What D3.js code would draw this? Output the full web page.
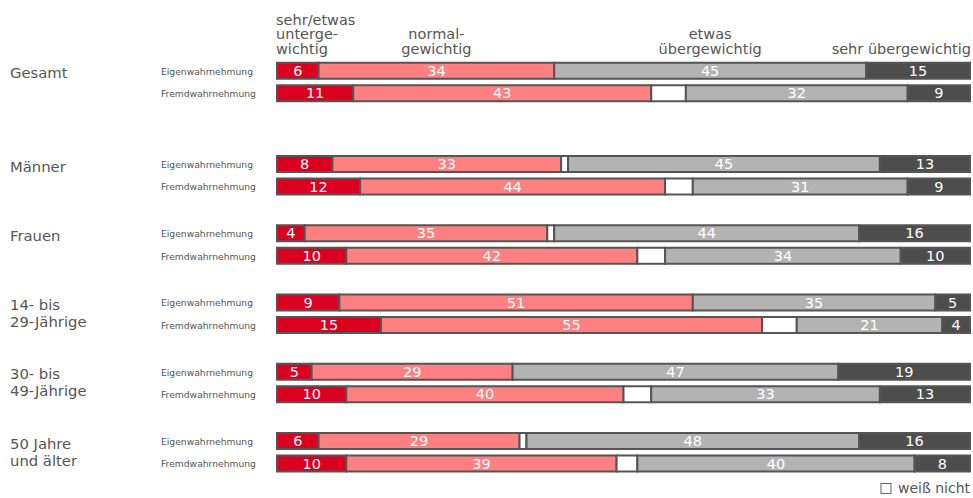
<!DOCTYPE html>
<html lang="de">
<head>
<meta charset="utf-8">
<script src="https://cdn.jsdelivr.net/npm/d3@7"></script>
<style>
  html, body { margin: 0; padding: 0; background: #fff; }
  svg { display: block; font-family: Verdana, "DejaVu Sans", sans-serif; }
</style>
</head>
<body>
<svg id="chart" width="973" height="498"></svg>
<script>
// Gewichtsklassen (stacked segments, left to right)
const categories = ["untergewichtig", "normalgewichtig", "weißNicht", "etwasUeber", "sehrUeber"];
const headerLabels = [
  ["sehr/etwas", "unterge-", "wichtig"],
  ["normal-", "gewichtig"],
  null,
  ["etwas", "übergewichtig"],
  ["sehr übergewichtig"]
];
const groups = [
  ["Gesamt"],
  ["Männer"],
  ["Frauen"],
  ["14- bis", "29-Jährige"],
  ["30- bis", "49-Jährige"],
  ["50 Jahre", "und älter"]
];
const perspectives = ["Eigenwahrnehmung", "Fremdwahrnehmung"];

// Prozentwerte je Gruppe: [untergewichtig, normalgewichtig, etwas übergewichtig, sehr übergewichtig]
const eigen = [
  [6, 34, 45, 15],
  [8, 33, 45, 13],
  [4, 35, 44, 16],
  [9, 51, 35, 5],
  [5, 29, 47, 19],
  [6, 29, 48, 16]
];
const fremd = [
  [11, 43, 32, 9],
  [12, 44, 31, 9],
  [10, 42, 34, 10],
  [15, 55, 21, 4],
  [10, 40, 33, 13],
  [10, 39, 40, 8]
];
const legendLabel = "weiß nicht";

const colors = {
  untergewichtig: "#db0020",
  normalgewichtig: "#ff8080",
  weißNicht: "#ffffff",
  etwasUeber: "#b3b3b3",
  sehrUeber: "#4d4d4d"
};
const textColor = "#555555";

// rows: remaining share ("weiß nicht") fills the gap to 100 %
function toRow(vals) {
  const rest = Math.max(0, 100 - d3.sum(vals));
  return { untergewichtig: vals[0], normalgewichtig: vals[1], weißNicht: rest, etwasUeber: vals[2], sehrUeber: vals[3] };
}
const rows = [];
groups.forEach((g, gi) => {
  rows.push({ group: gi, persp: 0, ...toRow(eigen[gi]) });
  rows.push({ group: gi, persp: 1, ...toRow(fremd[gi]) });
});
const series = d3.stack().keys(categories)(rows);

const svg = d3.select("#chart");

const x = d3.scaleLinear().domain([0, 100]).range([277, 970]);
// group positions: evenly spaced, with extra room after "Gesamt"
const yGroup = d3.scaleLinear().domain([1, groups.length - 1]).range([155, 432]);
const leadGap = 24;
const groupTop = gi => gi === 0 ? yGroup(1) - (yGroup(2) - yGroup(1)) - leadGap : yGroup(gi);
const barH = 18, rowStep = 22.5;
const rowTop = d => groupTop(d.group) + d.persp * rowStep;

// segments
const layer = svg.append("g");
series.forEach(s => {
  layer.append("g")
    .selectAll("rect")
    .data(s.filter(d => d[1] - d[0] > 0))
    .join("rect")
    .attr("x", d => x(d[0]))
    .attr("y", d => rowTop(d.data) + 1)
    .attr("width", d => x(d[1]) - x(d[0]))
    .attr("height", barH - 2)
    .attr("fill", colors[s.key])
    .attr("stroke", "#555")
    .attr("stroke-width", 2);
});

// value labels (not for "weiß nicht")
series.filter(s => s.key !== "weißNicht").forEach(s => {
  layer.append("g")
    .selectAll("text")
    .data(s)
    .join("text")
    .attr("x", d => (x(d[0]) + x(d[1])) / 2)
    .attr("y", d => rowTop(d.data) + barH / 2)
    .attr("dy", "0.36em")
    .attr("text-anchor", "middle")
    .attr("fill", "#fff")
    .attr("font-size", 14.5)
    .text(d => d[1] - d[0]);
});

// perspective labels
svg.append("g")
  .selectAll("text")
  .data(rows)
  .join("text")
  .attr("x", 161)
  .attr("y", d => rowTop(d) + barH / 2)
  .attr("dy", "0.42em")
  .attr("font-size", 9.2)
  .attr("fill", textColor)
  .text(d => perspectives[d.persp]);

// group labels, one text per line
const glFont = 14.8, glLine = 17;
svg.append("g")
  .selectAll("text")
  .data(groups.flatMap((lines, gi) => lines.map((t, li) => ({ t, gi, li }))))
  .join("text")
  .attr("x", 10)
  .attr("y", d => groupTop(d.gi) + 16.5 + d.li * glLine)
  .attr("font-size", glFont)
  .attr("fill", textColor)
  .text(d => d.t);

// column headers above the first bar
const first = series.map(s => s[0]);
const headBase = 53.5, headLine = 14.3;
headerLabels.forEach((lines, ci) => {
  if (!lines) return;
  const seg = first[ci];
  let anchor = "middle", hx = (x(seg[0]) + x(seg[1])) / 2;
  if (ci === 0) { anchor = "start"; hx = x(0) - 1; }
  if (ci === categories.length - 1) { anchor = "end"; hx = x(100) + 1; }
  svg.append("g")
    .selectAll("text")
    .data(lines)
    .join("text")
    .attr("x", hx)
    .attr("y", (d, i) => headBase - (lines.length - 1 - i) * headLine)
    .attr("text-anchor", anchor)
    .attr("font-size", 14.5)
    .attr("fill", textColor)
    .text(d => d);
});

// legend
const legend = svg.append("g");
const legendText = legend.append("text")
  .attr("x", 970)
  .attr("y", 492.5)
  .attr("text-anchor", "end")
  .attr("font-size", 14)
  .attr("fill", textColor)
  .text(legendLabel);
const lw = legendText.node().getComputedTextLength();
legend.append("rect")
  .attr("x", 970 - lw - 17)
  .attr("y", 483.5)
  .attr("width", 10)
  .attr("height", 10)
  .attr("fill", "#fff")
  .attr("stroke", "#666")
  .attr("stroke-width", 1);
</script>
</body>
</html>
